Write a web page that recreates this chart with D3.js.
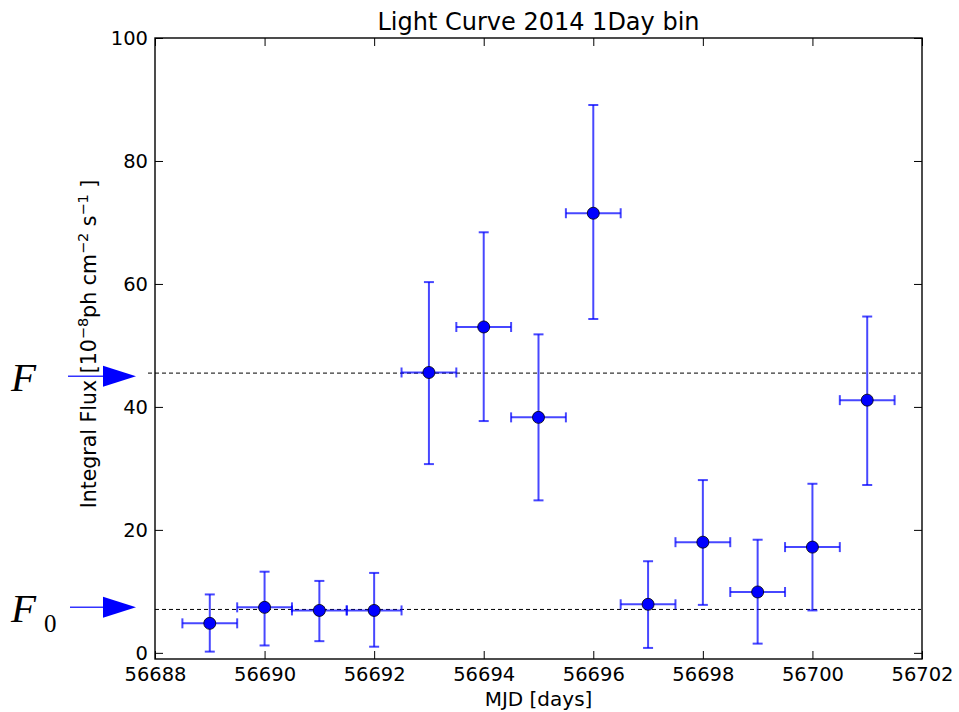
<!DOCTYPE html>
<html>
<head>
<meta charset="utf-8">
<script src="https://cdn.jsdelivr.net/npm/d3@7"></script>
<style>
  body { margin: 0; background: #fff; }
  svg text { font-family: "DejaVu Sans", sans-serif; fill: #000; }
</style>
</head>
<body>
<div id="content"></div>
<script>
// light curve values
let mjd      = [56689, 56690, 56691, 56692, 56693, 56694, 56695, 56696, 56697, 56698, 56699, 56700, 56701];
let flux     = [4.8, 7.4, 6.9, 6.9, 45.6, 53.0, 38.3, 71.5, 7.9, 18.0, 9.9, 17.2, 41.1];
let fluxHigh = [9.5, 13.2, 11.7, 13.0, 60.3, 68.4, 51.8, 89.1, 14.9, 28.1, 18.4, 27.5, 54.7];
let fluxLow  = [0.2, 1.2, 1.9, 1.0, 30.7, 37.7, 24.8, 54.3, 0.8, 7.8, 1.5, 6.9, 27.3];
let binHalf  = 0.5;

let xTicks = [56688, 56690, 56692, 56694, 56696, 56698, 56700, 56702];
let yTicks = [0, 20, 40, 60, 80, 100];

// reference levels F and F0
let levelNames  = ['F', 'F'];
let levelSubs   = ['', '0'];
let levelValues = [45.5, 7.06];
let arrowValues = [45.0, 7.4];

let width = 959, height = 712;
let mLeft = 155, mRight = 922, mTop = 38, mBottom = 659;

let svg = d3.select('#content').append('svg')
	.attr('width', width)
	.attr('height', height);

let x = d3.scaleLinear().domain([56688, 56702]).range([mLeft, mRight]);
let y = d3.scaleLinear().domain([-1, 100]).range([mBottom, mTop]);

let errColor = 'rgba(0,0,255,0.72)';

// dashed reference lines
svg.selectAll('line.level')
	.data(levelValues)
	.enter().append('line')
	.attr('class', 'level')
	.attr('x1', (d, i) => i == 0 ? mLeft - 7 : mLeft)
	.attr('x2', mRight - 1)
	.attr('y1', d => y(d))
	.attr('y2', d => y(d))
	.attr('stroke', '#000')
	.attr('stroke-width', 1)
	.attr('stroke-dasharray', '4,3');

let pts = mjd.map((m, i) => ({m: m, f: flux[i], hi: fluxHigh[i], lo: fluxLow[i]}));

let g = svg.append('g');
let capH = 5;

// vertical error bars
g.selectAll('line.ey').data(pts).enter().append('line')
	.attr('x1', d => x(d.m)).attr('x2', d => x(d.m))
	.attr('y1', d => y(d.hi)).attr('y2', d => y(d.lo))
	.attr('stroke', errColor).attr('stroke-width', 2);
g.selectAll('line.capHi').data(pts).enter().append('line')
	.attr('x1', d => x(d.m) - capH).attr('x2', d => x(d.m) + capH)
	.attr('y1', d => y(d.hi)).attr('y2', d => y(d.hi))
	.attr('stroke', errColor).attr('stroke-width', 2);
g.selectAll('line.capLo').data(pts).enter().append('line')
	.attr('x1', d => x(d.m) - capH).attr('x2', d => x(d.m) + capH)
	.attr('y1', d => y(d.lo)).attr('y2', d => y(d.lo))
	.attr('stroke', errColor).attr('stroke-width', 2);

// horizontal (bin width) error bars
g.selectAll('line.ex').data(pts).enter().append('line')
	.attr('x1', d => x(d.m - binHalf)).attr('x2', d => x(d.m + binHalf))
	.attr('y1', d => y(d.f)).attr('y2', d => y(d.f))
	.attr('stroke', errColor).attr('stroke-width', 2);
g.selectAll('line.capL').data(pts).enter().append('line')
	.attr('x1', d => x(d.m - binHalf)).attr('x2', d => x(d.m - binHalf))
	.attr('y1', d => y(d.f) - capH).attr('y2', d => y(d.f) + capH)
	.attr('stroke', errColor).attr('stroke-width', 2);
g.selectAll('line.capR').data(pts).enter().append('line')
	.attr('x1', d => x(d.m + binHalf)).attr('x2', d => x(d.m + binHalf))
	.attr('y1', d => y(d.f) - capH).attr('y2', d => y(d.f) + capH)
	.attr('stroke', errColor).attr('stroke-width', 2);

// markers
g.selectAll('circle').data(pts).enter().append('circle')
	.attr('cx', d => x(d.m))
	.attr('cy', d => y(d.f))
	.attr('r', 6)
	.attr('fill', '#0000ff')
	.attr('stroke', '#000')
	.attr('stroke-width', 0.8);

// axes, ticks pointing inward on all four sides
let tickLen = 8;
let xb = svg.append('g').attr('transform', `translate(0,${mBottom})`)
	.call(d3.axisBottom(x).tickValues(xTicks).tickFormat(d3.format('d')).tickSizeInner(-tickLen).tickSizeOuter(0).tickPadding(14));
let xt = svg.append('g').attr('transform', `translate(0,${mTop})`)
	.call(d3.axisTop(x).tickValues(xTicks).tickFormat('').tickSizeInner(-tickLen).tickSizeOuter(0));
let yl = svg.append('g').attr('transform', `translate(${mLeft},0)`)
	.call(d3.axisLeft(y).tickValues(yTicks).tickSizeInner(-tickLen).tickSizeOuter(0).tickPadding(14));
let yr = svg.append('g').attr('transform', `translate(${mRight},0)`)
	.call(d3.axisRight(y).tickValues(yTicks).tickFormat('').tickSizeInner(-tickLen).tickSizeOuter(0));

[xb, xt, yl, yr].forEach(a => {
	a.select('.domain').remove();
	a.selectAll('.tick line').attr('stroke', '#000').attr('stroke-width', 1);
	a.selectAll('.tick text').style('font-size', '19.5px').style('font-family', '"DejaVu Sans", sans-serif').attr('fill', '#000');
});
xb.selectAll('.tick text').attr('dy', '0.71em').attr('y', 8);
yl.selectAll('.tick text').attr('x', -7);

// frame
svg.append('rect')
	.attr('x', mLeft).attr('y', mTop)
	.attr('width', mRight - mLeft).attr('height', mBottom - mTop)
	.attr('fill', 'none')
	.attr('stroke', '#000')
	.attr('stroke-width', 1.4);

// title and axis labels
svg.append('text')
	.attr('x', (mLeft + mRight) / 2).attr('y', 30)
	.attr('text-anchor', 'middle')
	.style('font-size', '24px')
	.text('Light Curve 2014 1Day bin');

svg.append('text')
	.attr('x', (mLeft + mRight) / 2).attr('y', 706)
	.attr('text-anchor', 'middle')
	.style('font-size', '20px')
	.text('MJD [days]');

let yLabel = svg.append('text')
	.attr('transform', `translate(96,344) rotate(-90)`)
	.attr('text-anchor', 'middle')
	.style('font-size', '20.5px');
yLabel.append('tspan').text('Integral Flux [10');
yLabel.append('tspan').attr('dy', -8.5).style('font-size', '14.5px').text('\u22128');
yLabel.append('tspan').attr('dy', 8.5).text('ph cm');
yLabel.append('tspan').attr('dy', -8.5).style('font-size', '14.5px').text('\u22122');
yLabel.append('tspan').attr('dy', 8.5).text(' s');
yLabel.append('tspan').attr('dy', -8.5).style('font-size', '14.5px').text('\u22121');
yLabel.append('tspan').attr('dy', 8.5).text(' ]');

// F / F0 annotations with arrows
let ann = svg.selectAll('g.ann')
	.data(levelNames.map((n, i) => ({name: n, sub: levelSubs[i], v: arrowValues[i]})))
	.enter().append('g')
	.attr('class', 'ann')
	.attr('transform', d => `translate(0,${y(d.v)})`);

ann.append('line')
	.attr('x1', (d, i) => i == 0 ? 68 : 70)
	.attr('x2', 104)
	.attr('y1', 0).attr('y2', 0)
	.attr('stroke', 'rgba(0,0,255,0.8)')
	.attr('stroke-width', 1.5);

ann.append('path')
	.attr('d', 'M103,-10.5 L136,0 L103,10.5 Z')
	.attr('fill', '#0000ff');

ann.append('text')
	.attr('x', 11).attr('y', 15)
	.style('font-family', '"Liberation Serif", serif')
	.style('font-style', 'italic')
	.style('font-size', '41px')
	.text(d => d.name);

ann.append('text')
	.attr('x', 44).attr('y', 25)
	.style('font-family', '"Liberation Serif", serif')
	.style('font-size', '25px')
	.text(d => d.sub);
</script>
</body>
</html>
